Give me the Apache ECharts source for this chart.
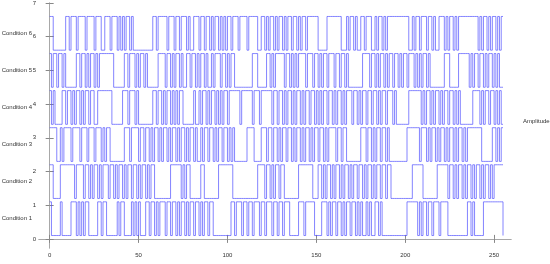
<!DOCTYPE html>
<html>
<head>
<meta charset="utf-8">
<script src="https://cdn.jsdelivr.net/npm/echarts@6/dist/echarts.min.js"></script>
<style>
  html, body { margin: 0; padding: 0; background: #fff; }
  #chart { width: 550px; height: 264px; }
</style>
</head>
<body>
<div id="chart"></div>
<script>
// bit sequences, 256 bits each, written in blocks of 32
const condition1Bits = [
  '10000010000011101010110000011011', '00000010110000101010001101101011',
  '10110110101101011011010110110000', '00000011011101101101110110111011',
  '01101110000011101111100001110101', '10110101101101010010100110100000',
  '00000000011111101011011011101111', '00000000000110100000111111111110'
].join('');
const condition2Bits = [
  '11000011111111011110110101101011', '10110101101011011010110101100000',
  '00001111110101100000011000000001', '11111110000000000000011110110101',
  '10110000000011111111000110101101', '01101011010110110101101011011011',
  '00000000000011111100000000111111', '01101011010110101101011010111111'
].join('');
const condition3Bits = [
  '11110010111101111011101110111010', '11000000001110111101101101011010',
  '11010110101101011010010110110101', '10110101000000011110000111011011',
  '01011011010110101101011011010111', '10110110000000011101101011011010',
  '00000000011111110111010110101101', '01101011010111111110000001101011'
].join('');
const condition4Bits = [
  '10100001101101011010110110011111', '11100000011101110100000000110110',
  '10110101011000000100101101011010', '10110111111011111101110111111011',
  '01101011010110101101101010110110', '10110101110110101101101101011011',
  '10100000001111111010110101101011', '01101010000000111101011011010100'
].join('');
const condition5Bits = [
  '10110110100000011011010110101111', '11110000001101110101101000000111',
  '10110101101001101101011010010111', '01101011000000000011100000110101',
  '11110110101011110111011010110111', '01101101000000001111011010110101',
  '10110101101110101011010000000011', '10000011111101011011010110101000'
].join('');
const condition6Bits = [
  '11000000011011101111011110111001', '11011101010110100000000000110111',
  '11011101101110100111011011010110', '10101101110111101111100110101101',
  '01101011011010110111111000001111', '11110001011010011011100101101011',
  '11111111110010110111011010011101', '01101011111111111010110101101011'
].join('');

const conditionNames = ['Condition 1', 'Condition 2', 'Condition 3', 'Condition 4', 'Condition 5', 'Condition 6'];
const xTicks = [0, 50, 100, 150, 200, 250];
const yTicks = [0, 1, 2, 3, 4, 5, 6, 7];

const allBits = [condition1Bits, condition2Bits, condition3Bits, condition4Bits, condition5Bits, condition6Bits];
const lineColor = 'rgba(80,80,255,0.7)';
const axisColor = '#a8a8a8';
const textColor = '#333';

const chart = echarts.init(document.getElementById('chart'), null, { renderer: 'canvas' });

// line series drops the ~1.8px bit steps, so draw the stairs as one custom polyline per condition
function renderStairs(params, api) {
  if (params.dataIndexInside !== 0) return null;
  const n = params.dataInsideLength;
  const points = [];
  for (let j = 0; j < n; j++) {
    const v = api.value(1, j);
    points.push(api.coord([api.value(0, j), v]));
    if (j < n - 1) points.push(api.coord([api.value(0, j + 1), v]));
  }
  return {
    type: 'polyline',
    shape: { points: points },
    style: { stroke: lineColor, lineWidth: 1, fill: 'none' },
    silent: true
  };
}

const series = allBits.map((bits, k) => ({
  name: conditionNames[k],
  type: 'custom',
  coordinateSystem: 'cartesian2d',
  renderItem: renderStairs,
  encode: { x: 0, y: 1 },
  clip: true,
  animation: false,
  // conditions stacked 1.1 apart, low level at +0.1
  data: Array.from(bits, (b, i) => [i, Number(b) + 0.1 + 1.1 * k])
}));

const option = {
  animation: false,
  grid: { left: 39, right: 39, top: 3, bottom: 16, outerBoundsMode: 'none' },
  xAxis: [
    {
      type: 'value', min: -6, max: 259.5, position: 'bottom',
      axisLine: { show: true, lineStyle: { color: axisColor } },
      axisTick: { show: true, inside: true, length: 4, customValues: xTicks, lineStyle: { color: '#888' } },
      axisLabel: { customValues: xTicks, fontSize: 6, color: textColor, margin: 4, fontFamily: 'Liberation Sans' },
      splitLine: { show: false },
      name: 'Bit', nameLocation: 'middle', nameGap: 10,
      nameTextStyle: { fontSize: 6, color: textColor, fontFamily: 'Liberation Sans' }
    },
    {
      type: 'value', min: -6, max: 259.5, position: 'top',
      axisLine: { show: true, lineStyle: { color: axisColor } },
      axisTick: { show: true, inside: true, length: 4, customValues: xTicks, lineStyle: { color: '#888' } },
      axisLabel: { show: false },
      splitLine: { show: false }
    }
  ],
  yAxis: [
    {
      type: 'value', min: -0.27, max: 7, position: 'left',
      axisLine: { show: true, lineStyle: { color: axisColor } },
      axisTick: { show: true, inside: true, length: 4, customValues: yTicks, lineStyle: { color: '#888' } },
      axisLabel: { customValues: yTicks, fontSize: 6, color: textColor, margin: 3, fontFamily: 'Liberation Sans' },
      splitLine: { show: false }
    },
    {
      type: 'value', min: -0.27, max: 7, position: 'right',
      axisLine: { show: true, lineStyle: { color: axisColor } },
      axisTick: { show: true, inside: true, length: 4, customValues: yTicks, lineStyle: { color: '#888' } },
      axisLabel: { show: false },
      splitLine: { show: false }
    }
  ],
  series: series
};
chart.setOption(option);

// condition names to the left of the tick labels, and the amplitude caption on the right
const graphics = conditionNames.map((name, k) => {
  const p = chart.convertToPixel({ xAxisIndex: 0, yAxisIndex: 0 }, [-6, 0.6 + 1.1 * k]);
  return {
    type: 'text', x: p[0] - 7, y: p[1],
    style: { text: name, fontSize: 6, fill: textColor, fontFamily: 'Liberation Sans', align: 'right', verticalAlign: 'middle' }
  };
});
const mid = chart.convertToPixel({ xAxisIndex: 0, yAxisIndex: 0 }, [259.5, 3.5]);
graphics.push({
  type: 'text', x: mid[0] + 12, y: mid[1],
  style: { text: 'Amplitude', fontSize: 6, fill: textColor, fontFamily: 'Liberation Sans', align: 'left', verticalAlign: 'middle' }
});
chart.setOption({ graphic: graphics });
</script>
</body>
</html>
